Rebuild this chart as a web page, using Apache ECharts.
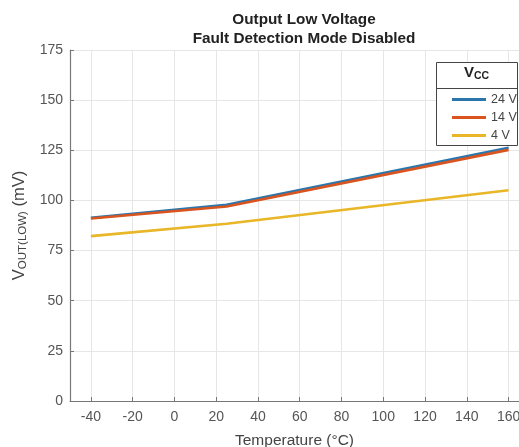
<!DOCTYPE html>
<html><head><meta charset="utf-8">
<script src="https://cdn.jsdelivr.net/npm/echarts@6/dist/echarts.min.js"></script>
<style>html,body{margin:0;padding:0;background:#fff}#c{width:519px;height:447px}</style>
</head><body><div id="c"></div>
<script>
const temps = [-40, 25, 160];
const v24 = [91.3, 97.8, 126.3];
const v14 = [91.0, 97.0, 125.2];
const v4 = [82.2, 88.4, 105.1];
const xTicks = [-40, -20, 0, 20, 40, 60, 80, 100, 120, 140, 160];
const seriesNames = ['24 V', '14 V', '4 V'];
const colors = ['#2a76ad', '#d9541e', '#e8b627'];

const FF = 'Liberation Sans';
const chart = echarts.init(document.getElementById('c'));
const mk = (name, vals, c) => ({
  name, type: 'line', data: temps.map((t, i) => [t, vals[i]]),
  symbol: 'none', lineStyle: {width: 2.6, color: c}, itemStyle: {color: c}, z: 3
});
chart.setOption({
  animation: false,
  title: {
    text: 'Output Low Voltage\nFault Detection Mode Disabled',
    left: 299, top: 5, textAlign: 'center',
    textStyle: {fontFamily: FF, fontSize: 15.3, fontWeight: 'bold', color: '#222', lineHeight: 19}
  },
  grid: {left: 70, right: 0, top: 50, bottom: 46, outerBoundsMode: 'none', containLabel: false},
  xAxis: {
    type: 'value', min: -50, max: 165, interval: 10,
    name: 'Temperature (°C)', nameLocation: 'middle', nameGap: 32,
    nameTextStyle: {fontFamily: FF, fontSize: 15.5, color: '#444'},
    axisLine: {show: true, onZero: false, lineStyle: {color: '#777', width: 1.2}},
    axisTick: {show: true, inside: true, length: 4, lineStyle: {color: '#777'}, customValues: xTicks},
    axisLabel: {fontFamily: FF, fontSize: 14, color: '#555', margin: 9, customValues: xTicks, formatter: v => String(v)},
    splitLine: {show: false}
  },
  yAxis: {
    type: 'value', min: 0, max: 175, interval: 25,
    name: '{v|V}{s|OUT(LOW)}{v| (mV)}', nameLocation: 'middle', nameGap: 40,
    nameTextStyle: {rich: {
      v: {fontFamily: FF, fontSize: 16.5, color: '#444'},
      s: {fontFamily: FF, fontSize: 11.5, color: '#444', verticalAlign: 'bottom', padding: [7, 0, 0, 0]}
    }},
    axisLine: {show: true, onZero: false, lineStyle: {color: '#777', width: 1.2}},
    axisTick: {show: true, inside: true, length: 4, lineStyle: {color: '#777'}},
    axisLabel: {fontFamily: FF, fontSize: 14, color: '#555', margin: 7},
    splitLine: {show: true, lineStyle: {color: '#e6e6e6', width: 1}}
  },
  legend: {
    data: seriesNames, orient: 'vertical', left: 447, top: 88,
    itemWidth: 34, itemHeight: 3, itemGap: 5, icon: 'rect',
    textStyle: {fontFamily: FF, fontSize: 12.5, color: '#444'}
  },
  graphic: [
    {type: 'rect', left: 436, top: 62, shape: {width: 81, height: 83}, z: 10,
      style: {fill: 'rgba(255,255,255,0)', stroke: '#444', lineWidth: 1}, silent: true},
    {type: 'rect', left: 436, top: 62, shape: {width: 81, height: 83}, z: 1,
      style: {fill: '#fff'}, silent: true},
    {type: 'line', shape: {x1: 436, y1: 88.5, x2: 517, y2: 88.5}, z: 10,
      style: {stroke: '#444', lineWidth: 1}},
    {type: 'text', left: 464, top: 65, z: 10,
      style: {text: '{v|V}{s|CC}', rich: {
        v: {fontFamily: FF, fontSize: 15, fontWeight: 'bold', fill: '#222'},
        s: {fontFamily: FF, fontSize: 10.5, fontWeight: 'bold', fill: '#222', verticalAlign: 'bottom', padding: [7, 0, 0, 0]}
      }}}
  ],
  series: [
    {type: 'line', data: [], silent: true, z: 0,
      markLine: {silent: true, z: 0, symbol: 'none', label: {show: false}, animation: false,
        lineStyle: {color: '#e6e6e6', width: 1, type: 'solid'}, emphasis: {disabled: true},
        data: xTicks.map(v => ({xAxis: v}))}},
    mk(seriesNames[0], v24, colors[0]), mk(seriesNames[1], v14, colors[1]), mk(seriesNames[2], v4, colors[2])
  ]
});
</script></body></html>
